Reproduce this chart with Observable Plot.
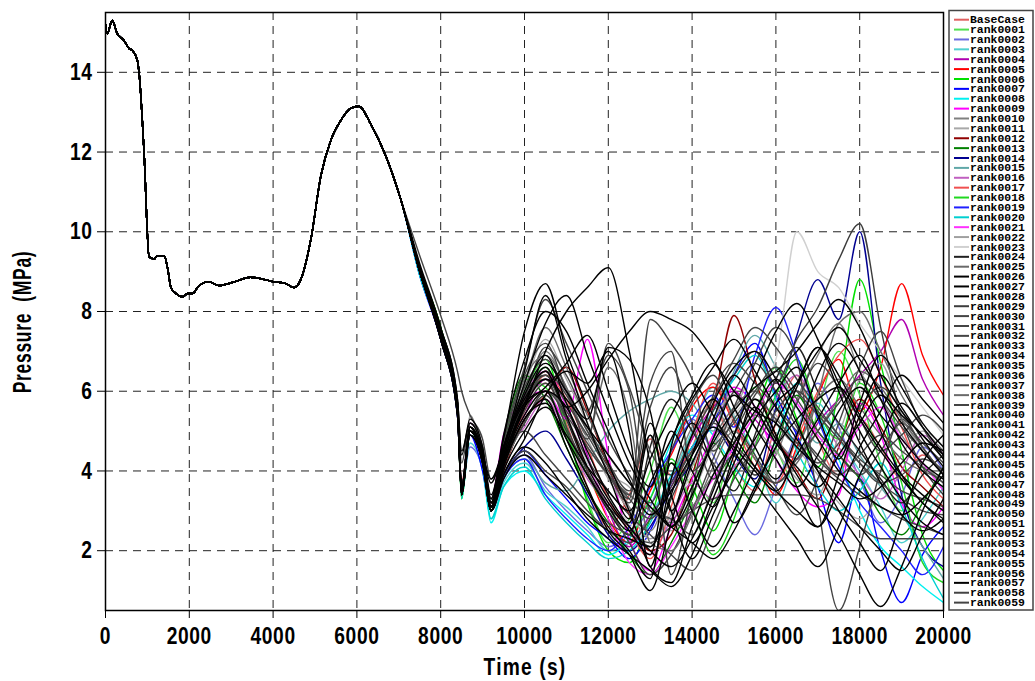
<!DOCTYPE html>
<html><head><meta charset="utf-8">
<script src="https://cdn.jsdelivr.net/npm/d3@7"></script>
<script src="https://cdn.jsdelivr.net/npm/@observablehq/plot@0.6"></script>
<style>
body{margin:0;background:#fff;}
#wrap{position:relative;width:1035px;height:681px;overflow:hidden;}
#chart{position:absolute;left:0;top:0;}
#over{position:absolute;left:0;top:0;pointer-events:none;}
</style></head><body>
<div id="wrap"><div id="chart"></div><svg id="over" width="1035" height="681"></svg></div>
<script>
// ---- data ----
// common history shared by every run (0 - 7050 s)
const baseTime = [0, 40, 160, 280, 440, 560, 640, 760, 800, 920, 1040, 1160, 1240, 1400, 1480, 1560, 1680, 1840, 1960, 2080, 2200, 2470, 2700, 3070, 3460, 3800, 4000, 4300, 4500, 4660, 4900, 5140, 5380, 5620, 5860, 6050, 6330, 6690, 7050];
const basePressure = [15.2, 14.97, 15.3, 14.97, 14.8, 14.6, 14.55, 14.3, 14.0, 12.0, 9.37, 9.32, 9.4, 9.4, 9.1, 8.61, 8.45, 8.37, 8.45, 8.45, 8.61, 8.75, 8.65, 8.74, 8.86, 8.8, 8.75, 8.7, 8.6, 8.8, 9.8, 11.4, 12.3, 12.8, 13.1, 13.15, 12.7, 11.9, 10.8];

// per-run values after 7050 s
const tailTime = [7500, 8000, 8400, 8500, 8700, 9000, 9200, 9500, 10000, 10500, 11000, 11500, 12000, 12500, 13000, 13500, 14000, 14500, 15000, 15500, 16000, 16500, 17000, 17500, 18000, 18500, 19000, 19500, 20000];

const seriesNames = ["BaseCase"].concat(d3.range(1, 60).map(i => "rank" + String(i).padStart(4, "0")));

const seriesColors = [
  "#e06060","#50e050","#6a6ae0","#50d0d0","#b000b0","#ff0000","#00e000","#0000ff","#00f0f0","#ff00ff",
  "#808080","#a8a8a8","#900000","#008000","#000090","#60a8a8","#c060c0","#f05050","#20d820","#2020ff",
  "#00d0d0","#ff30ff","#a0a0a0","#d0d0d0","#202020","#6a6a6a","#000000","#000000","#000000","#3c3c3c",
  "#444444","#444444","#444444","#000000","#000000","#000000","#000000","#444444","#6a6a6a","#444444",
  "#000000","#000000","#000000","#000000","#444444","#444444","#6a6a6a","#000000","#000000","#000000",
  "#000000","#000000","#444444","#444444","#444444","#000000","#000000","#000000","#444444","#444444"
];

const tailPressure = [
  [9.0,7.4,5.6,3.5,5.1,4.4,3.1,4.3,5.6,6.2,5.2,3.6,2.6,3.4,4.8,3.9,4.6,5.8,4.2,3.5,5.2,6.4,4.8,3.9,5.3,4.6,3.8,4.4,3.9],
  [9.1,7.5,5.5,3.3,5.0,4.2,3.0,4.6,5.9,6.6,5.0,3.3,2.2,2.8,4.0,5.6,4.3,3.2,4.9,6.1,4.6,3.7,5.5,7.0,5.9,4.2,3.0,4.1,3.5],
  [9.0,7.3,5.4,3.6,4.6,4.1,3.3,3.9,4.4,3.6,3.0,2.5,2.1,2.4,3.1,4.5,5.3,4.4,3.3,2.4,3.6,5.0,6.2,5.1,3.8,2.7,3.4,4.6,4.0],
  [8.9,7.4,5.6,3.4,4.7,4.0,2.8,3.7,4.2,3.5,3.1,2.6,2.0,2.2,2.9,3.8,5.0,6.1,5.4,4.4,3.2,4.5,5.7,4.8,4.0,3.1,2.2,2.8,3.6],
  [9.1,7.5,5.7,3.5,5.2,4.5,3.2,4.4,5.4,6.3,6.0,4.4,3.0,2.1,2.9,3.6,4.8,5.6,6.0,5.3,4.7,4.3,5.2,5.8,6.4,7.0,7.8,6.3,5.4],
  [9.0,7.4,5.5,3.7,5.0,4.3,3.1,4.1,5.7,6.5,5.4,4.0,2.8,2.2,3.5,4.4,5.6,6.1,5.2,4.3,3.4,4.6,5.9,6.8,5.5,6.6,8.7,6.9,5.9],
  [9.1,7.6,5.6,3.3,5.1,4.4,3.0,4.7,6.0,6.8,5.1,3.2,2.0,1.7,2.8,4.2,3.6,2.5,3.9,5.4,6.6,5.3,4.1,6.0,8.8,6.7,4.5,2.4,1.5],
  [8.9,7.3,5.4,3.5,4.9,4.0,3.0,3.8,4.5,3.9,3.3,2.7,2.3,1.8,2.5,3.7,4.6,5.2,6.4,7.2,5.9,4.9,3.6,2.2,3.8,2.0,0.7,1.9,2.6],
  [9.0,7.4,5.6,3.4,5.0,4.2,2.7,3.6,4.0,3.4,2.9,2.4,1.9,2.3,3.3,4.7,5.4,4.9,4.1,3.6,4.8,6.2,5.4,4.3,3.0,2.1,1.6,1.1,0.7],
  [9.1,7.5,5.6,3.6,5.2,4.6,3.3,4.9,5.8,6.0,5.3,7.3,4.4,2.3,1.5,2.6,3.8,4.9,6.1,5.6,4.3,3.5,3.1,3.4,5.7,4.9,3.2,2.6,3.1],
  [9.0,7.4,5.5,3.5,5.4,4.3,3.2,4.4,5.9,7.0,6.1,5.0,4.2,3.1,2.5,3.8,5.1,5.6,4.8,3.9,4.4,5.8,6.9,7.7,6.5,5.8,4.9,4.2,3.7],
  [9.1,7.5,5.7,3.6,5.1,4.4,3.1,4.5,6.1,7.3,6.3,5.2,4.0,3.6,3.0,2.5,3.4,4.6,5.5,6.4,5.4,4.6,3.9,3.2,2.8,3.5,4.4,5.0,4.6],
  [9.0,7.4,5.6,3.4,5.0,4.3,3.0,4.0,5.3,5.9,6.6,5.5,4.1,2.9,2.0,2.4,3.9,5.6,7.9,6.3,4.9,4.0,3.3,4.6,5.8,5.1,4.1,3.6,3.1],
  [9.1,7.6,5.7,3.5,5.2,4.6,3.2,4.8,6.4,5.8,4.6,3.5,2.7,1.9,1.4,2.2,3.3,4.7,3.9,3.2,4.6,5.9,5.0,4.4,3.8,2.9,2.4,3.2,4.1],
  [9.0,7.3,5.5,3.6,4.9,4.2,3.1,3.9,4.6,5.0,4.3,3.4,2.4,2.0,2.6,3.5,4.2,5.1,4.4,3.8,5.6,7.4,8.8,7.8,10.0,6.2,3.4,2.1,1.6],
  [9.0,7.4,5.6,3.5,5.0,4.3,3.0,3.8,4.3,3.7,3.5,4.2,5.0,5.5,5.8,6.0,5.7,5.0,6.5,7.4,6.6,5.6,4.7,5.2,4.4,3.6,2.9,2.1,1.3],
  [9.1,7.5,5.6,3.6,5.1,4.4,3.2,4.3,5.1,5.8,4.9,3.8,3.2,2.6,1.9,2.8,3.7,3.3,4.1,4.7,5.8,6.4,5.5,4.6,3.9,3.3,4.0,4.9,4.4],
  [9.0,7.4,5.5,3.4,5.0,4.3,3.1,4.2,5.5,6.4,5.8,4.6,3.3,2.5,1.8,3.1,4.9,6.2,5.2,4.1,3.7,4.8,6.0,6.9,7.3,6.4,5.1,3.9,3.3],
  [9.1,7.5,5.6,3.5,5.1,4.5,3.3,4.7,6.3,6.1,4.9,3.9,3.0,2.4,3.3,4.3,3.1,1.9,2.8,4.6,5.9,6.8,5.5,4.8,6.2,5.4,3.7,1.7,1.2],
  [9.0,7.3,5.4,3.6,4.9,4.2,3.0,3.8,4.3,3.4,2.8,2.3,2.0,2.6,3.6,4.5,5.3,5.9,5.1,6.9,8.1,6.9,5.3,4.1,3.2,2.6,2.0,1.4,2.1],
  [8.9,7.4,5.6,3.3,5.0,4.2,2.8,3.6,4.1,3.3,2.7,2.2,1.8,2.0,2.7,3.9,4.6,5.5,6.3,6.9,5.8,4.5,3.6,3.0,3.5,4.2,3.1,1.8,0.8],
  [9.1,7.5,5.7,3.5,5.2,4.5,3.2,4.5,5.9,6.5,5.6,4.3,2.8,1.7,1.4,2.1,3.0,3.8,4.6,5.4,6.2,5.7,4.9,4.4,5.1,5.6,4.8,4.2,3.5],
  [9.0,7.4,5.6,3.6,5.0,4.4,3.2,4.4,5.8,6.8,5.9,4.8,3.8,3.0,2.3,2.9,4.1,5.3,5.9,5.1,4.5,3.8,3.4,4.9,6.3,6.7,5.4,4.5,4.0],
  [9.0,7.4,5.6,3.5,5.0,4.3,3.1,4.3,5.6,6.2,5.4,4.2,3.3,2.7,2.2,3.0,3.9,4.5,5.4,6.0,6.8,10.0,9.0,8.6,7.7,7.0,6.3,5.6,4.9],
  [9.0,7.4,5.6,3.5,5.0,4.3,3.1,4.4,5.9,6.4,5.3,4.0,3.0,2.4,4.6,5.8,5.0,4.2,3.5,4.9,6.3,7.1,6.0,5.2,4.5,3.8,3.2,3.9,4.4],
  [9.1,7.5,5.7,3.6,5.1,4.4,3.2,4.5,6.2,7.6,6.6,5.4,4.4,3.7,3.1,2.8,3.6,4.8,5.6,6.0,5.2,4.7,5.8,6.3,5.6,4.9,4.3,4.0,3.8],
  [9.0,7.4,5.5,3.5,5.0,4.3,3.0,4.2,5.6,7.0,8.0,8.6,9.1,7.0,4.2,2.6,3.4,4.8,5.9,5.1,4.3,3.6,4.4,5.5,6.1,5.4,4.8,4.2,3.8],
  [9.2,7.6,5.8,4.4,5.3,4.6,3.4,4.8,7.5,8.7,7.0,5.6,4.2,3.0,1.6,1.2,2.6,3.9,4.7,5.5,6.3,5.6,4.8,4.0,3.5,3.1,2.9,3.3,3.9],
  [9.0,7.4,5.6,3.5,5.1,4.4,3.2,4.6,5.8,6.5,5.6,6.0,6.8,7.5,8.0,7.8,7.5,6.8,6.0,5.5,5.2,4.6,4.1,3.7,3.3,3.6,4.2,4.7,4.5],
  [9.0,7.4,5.5,3.4,5.0,4.3,3.1,4.1,5.2,5.9,5.0,3.9,3.1,2.6,2.1,3.3,4.4,5.5,6.4,7.0,6.2,7.3,8.1,9.3,10.2,7.6,5.3,4.1,3.4],
  [9.1,7.5,5.6,3.6,5.1,4.4,3.2,4.3,5.0,4.4,3.8,3.2,2.7,2.4,2.2,2.6,3.0,3.3,3.4,3.4,3.4,3.4,3.3,3.0,2.6,2.3,2.3,2.3,2.3],
  [9.0,7.4,5.6,3.5,5.0,4.3,3.1,4.4,5.7,6.3,5.1,4.0,3.1,2.2,1.4,1.9,3.0,4.3,5.6,6.7,7.6,6.8,3.2,0.5,2.1,4.0,5.3,4.6,3.9],
  [9.1,7.5,5.7,4.2,5.2,4.5,3.3,4.8,6.6,8.3,7.2,6.0,4.8,3.9,3.2,4.5,5.7,6.4,5.3,4.4,3.6,2.9,3.8,5.2,6.6,7.5,6.3,5.1,4.3],
  [9.0,7.3,5.4,3.4,4.9,4.2,3.0,3.9,4.8,5.9,6.5,6.2,7.0,5.0,1.6,3.8,5.2,4.1,2.7,3.5,4.8,6.1,7.1,6.2,5.0,4.1,3.3,2.7,2.4],
  [9.0,7.4,5.6,3.5,5.0,4.3,3.1,4.3,5.6,6.1,6.7,7.4,6.0,4.5,3.6,5.0,4.0,3.1,4.4,5.8,4.9,3.6,2.6,3.9,5.4,6.4,5.6,4.8,4.1],
  [9.1,7.5,5.6,3.6,5.1,4.4,3.2,4.5,6.0,6.9,5.7,4.3,3.3,2.7,4.9,3.0,1.8,2.9,4.2,5.3,6.0,6.6,5.4,4.3,5.7,6.9,6.1,5.2,4.6],
  [9.0,7.4,5.5,3.4,5.0,4.3,3.0,4.1,5.3,5.8,4.6,3.5,2.6,2.0,1.3,4.6,5.9,6.7,5.6,4.6,3.8,4.9,6.4,7.2,6.5,5.0,3.9,3.2,2.8],
  [9.0,7.4,5.6,3.5,5.0,4.3,3.1,4.3,5.8,7.1,6.4,5.5,6.9,6.0,3.0,2.8,2.4,3.6,4.9,5.9,6.5,5.8,5.0,4.4,3.9,4.5,5.2,4.7,4.2],
  [9.1,7.5,5.7,3.6,5.2,4.5,3.3,4.6,6.3,6.9,6.1,4.9,6.6,5.4,2.2,2.0,2.9,4.1,5.0,4.3,3.7,4.2,5.0,5.8,6.5,6.1,5.3,4.6,3.9],
  [9.0,7.3,5.4,3.4,4.9,4.2,3.0,3.8,4.5,4.0,3.6,3.0,2.5,2.2,2.8,3.7,4.5,5.2,6.0,6.7,6.0,5.1,4.3,3.8,3.4,3.1,2.8,2.6,2.4],
  [9.0,7.4,5.6,3.5,5.0,4.3,3.1,4.4,5.7,6.0,4.8,3.6,2.5,1.9,1.0,2.7,4.4,5.7,6.6,7.0,6.3,5.2,4.0,3.0,2.2,1.5,2.8,4.2,4.9],
  [9.1,7.5,5.6,3.6,5.1,4.4,3.8,4.6,6.5,8.4,6.8,5.2,3.9,2.8,5.2,3.4,2.2,3.1,4.0,4.8,5.7,6.2,7.0,7.6,6.8,6.0,5.2,4.5,3.9],
  [9.0,7.4,5.5,3.5,5.0,4.3,3.1,4.2,5.4,6.0,5.6,4.5,3.4,2.6,2.0,1.6,2.3,3.5,4.9,6.3,7.5,8.2,7.3,6.0,4.7,3.7,2.9,2.5,2.8],
  [9.0,7.3,5.5,3.4,5.0,4.2,3.0,4.0,5.0,5.6,4.9,4.1,3.5,3.0,4.3,5.4,6.2,5.4,4.5,3.7,3.0,2.3,1.6,2.6,3.9,4.8,5.7,5.1,4.4],
  [9.1,7.5,5.7,3.6,5.1,4.4,3.3,4.7,6.4,7.2,6.0,4.8,7.2,6.1,4.5,3.9,4.9,5.8,6.8,7.6,7.1,6.3,5.6,4.9,4.3,3.9,3.5,3.3,3.1],
  [9.0,7.4,5.6,3.5,5.0,4.3,3.1,4.3,5.5,6.2,5.3,4.3,3.5,2.9,2.4,1.9,1.5,2.6,3.8,4.6,5.5,6.0,5.5,4.9,4.2,3.7,3.9,4.3,4.0],
  [9.0,7.4,5.5,3.4,5.0,4.3,3.1,4.1,5.2,6.0,5.5,4.6,3.9,3.4,3.0,2.7,3.1,3.9,4.7,5.4,4.8,4.3,5.9,7.7,8.0,7.0,5.9,5.1,4.5],
  [9.1,7.6,5.8,4.5,5.2,4.5,3.3,4.9,6.8,8.0,7.5,6.2,5.0,3.8,2.9,3.5,4.4,5.1,4.6,4.0,3.5,4.4,5.3,6.2,6.9,5.8,4.7,4.0,3.6],
  [9.0,7.4,5.6,3.5,5.0,4.3,3.1,4.3,5.7,6.6,5.4,4.1,3.2,2.5,1.9,4.2,3.0,2.1,3.0,4.1,5.2,6.2,7.1,6.4,5.4,4.6,3.9,3.4,3.0],
  [9.0,7.3,5.4,3.4,4.9,4.2,3.0,3.9,4.6,4.2,3.5,2.8,2.3,1.9,1.5,1.1,1.9,3.3,4.5,5.6,4.8,3.9,3.1,2.4,1.4,0.6,1.6,3.0,4.1],
  [9.1,7.5,5.6,3.6,5.1,4.4,3.2,4.4,5.9,6.7,6.0,5.3,7.1,6.8,5.5,3.0,4.2,5.3,6.4,5.6,4.7,4.1,3.6,4.4,5.2,5.9,5.4,4.9,4.3],
  [9.0,7.4,5.6,3.5,5.0,4.3,3.1,4.2,5.6,6.3,5.8,5.1,4.4,3.7,3.1,2.6,2.2,1.8,2.5,3.6,4.6,5.3,5.8,6.1,5.3,4.5,3.8,3.2,2.7],
  [9.0,7.4,5.5,3.5,5.0,4.3,3.1,4.3,5.6,6.5,5.9,5.0,4.1,3.4,6.2,7.0,4.0,4.6,5.2,5.8,5.3,4.7,4.2,4.7,5.6,6.1,5.5,4.6,3.9],
  [9.1,7.5,5.7,3.6,5.2,4.5,3.2,4.6,6.1,6.8,6.0,5.1,4.2,3.5,5.6,6.6,5.2,3.8,4.4,3.9,4.6,5.7,6.7,6.1,5.3,4.5,4.9,5.4,5.0],
  [9.0,7.4,5.6,3.5,5.0,4.3,3.1,4.4,5.8,6.3,5.5,4.7,3.9,3.2,4.9,1.4,3.5,5.9,6.7,6.2,5.6,5.0,4.4,3.9,4.4,4.9,4.5,4.1,3.7],
  [9.0,7.4,5.5,3.4,5.0,4.3,3.0,4.1,5.3,5.7,4.8,3.9,3.1,2.5,3.7,4.8,5.8,6.6,7.3,6.5,5.6,4.8,4.0,3.3,2.6,2.0,1.5,2.4,3.3],
  [9.1,7.5,5.6,3.6,5.1,4.4,3.7,4.6,6.2,7.7,8.4,6.9,5.5,4.2,3.3,2.6,3.6,4.7,5.5,6.1,6.5,7.0,7.7,8.3,7.6,6.4,5.5,4.9,4.4],
  [9.0,7.3,5.4,3.4,4.9,4.2,3.0,3.8,4.4,3.9,3.4,2.9,2.5,2.3,2.1,3.4,4.9,5.8,4.9,4.1,3.5,3.0,2.6,3.5,4.6,5.5,6.4,5.8,5.2],
  [9.0,7.4,5.6,3.5,5.0,4.3,3.1,4.3,5.7,6.4,5.7,4.9,4.0,3.3,7.8,7.2,6.3,4.5,5.3,6.0,6.6,6.0,5.4,4.8,4.2,3.7,3.3,3.0,2.9],
  [9.4,7.9,6.5,6.0,5.4,4.8,3.8,4.3,5.2,6.0,5.4,4.6,3.9,3.3,2.8,3.6,4.5,5.2,4.7,4.1,3.7,4.3,5.0,5.7,6.3,5.8,5.1,4.5,4.0]
];

const xTicks = [0, 2000, 4000, 6000, 8000, 10000, 12000, 14000, 16000, 18000, 20000];
const yTicks = [2, 4, 6, 8, 10, 12, 14];
const xTitle = "Time (s)";
const yTitle = "Pressure\u00a0\u00a0(MPa)";

// ---- long table: coloured runs first, grey next, black on top ----
const layer = c => c === "#000000" ? 2 : (["#3c3c3c", "#444444", "#6a6a6a", "#202020"].includes(c) ? 1 : 0);
const drawOrder = d3.range(seriesNames.length).sort((a, b) => layer(seriesColors[a]) - layer(seriesColors[b]) || a - b);
const rows = [];
drawOrder.forEach(i => {
  const name = seriesNames[i];
  baseTime.forEach((t, j) => rows.push({name, t, p: basePressure[j]}));
  tailTime.forEach((t, j) => rows.push({name, t, p: tailPressure[i][j]}));
});

const font = "'Liberation Sans',Arial,sans-serif";
const chart = Plot.plot({
  width: 1035, height: 681,
  marginLeft: 105, marginRight: 92, marginTop: 12, marginBottom: 71,
  style: {fontFamily: font, fontWeight: "bold", background: "white", color: "black"},
  x: {domain: [0, 20000]},
  y: {domain: [0.5, 15.5]},
  color: {domain: seriesNames, range: seriesColors},
  marks: [
    Plot.gridX(xTicks.slice(1, -1), {stroke: "#222", strokeOpacity: 1, strokeDasharray: "8,6"}),
    Plot.gridY(yTicks, {stroke: "#222", strokeOpacity: 1, strokeDasharray: "8,6"}),
    Plot.line(rows, {x: "t", y: "p", z: "name", stroke: "name", strokeWidth: 1.4, curve: "monotone-x", clip: true}),
    Plot.frame({stroke: "black", strokeWidth: 1.5}),
    Plot.axisX({ticks: xTicks, tickSize: 8, tickPadding: 8, tickFormat: d => String(d), label: null, fontSize: 24}),
    Plot.axisY({ticks: yTicks, tickSize: 8, tickPadding: 5, label: null, fontSize: 24})
  ]
});
document.getElementById("chart").appendChild(chart);

// condense the tick labels horizontally (the reference uses a narrow bold face)
d3.select(chart).selectAll('g[aria-label="x-axis tick label"] text, g[aria-label="y-axis tick label"] text').each(function() {
  const xa = this.getAttribute("x");
  let t = this.getAttribute("transform") || "";
  if (xa !== null && xa !== "" && !isNaN(+xa)) {
    this.removeAttribute("x");
    t += ` translate(${+xa},0)`;
  }
  this.setAttribute("transform", `${t} scale(0.8,1)`);
  this.setAttribute("letter-spacing", "0.8");
});

const over = d3.select("#over");
// axis titles
over.append("text").attr("transform", "translate(525,675) scale(0.8,1)")
  .attr("text-anchor", "middle").attr("font-family", font).attr("font-weight", "bold")
  .attr("font-size", 24).attr("letter-spacing", 1.5).text(xTitle);
over.append("text").attr("transform", "translate(31,322) rotate(-90) scale(0.7,1)")
  .attr("text-anchor", "middle").attr("font-family", font).attr("font-weight", "bold")
  .attr("font-size", 25).attr("letter-spacing", 1).text(yTitle);

// legend
over.append("rect").attr("x", 949).attr("y", 10.5).attr("width", 84).attr("height", 599.5)
  .attr("fill", "white").attr("stroke", "#444").attr("stroke-width", 1.5);
seriesNames.forEach((name, i) => {
  const y = 19.7 + i * 9.88;
  over.append("line").attr("x1", 954).attr("x2", 969).attr("y1", y).attr("y2", y)
    .attr("stroke", seriesColors[i]).attr("stroke-width", 2);
  over.append("text").attr("x", 970).attr("y", y).attr("dy", "0.35em")
    .attr("font-family", "'Liberation Mono','DejaVu Sans Mono',monospace")
    .attr("font-weight", "bold").attr("font-size", "10.2px").attr("fill", "black")
    .attr("textLength", 55).attr("lengthAdjust", "spacingAndGlyphs")
    .text(name);
});
</script>
</body></html>
